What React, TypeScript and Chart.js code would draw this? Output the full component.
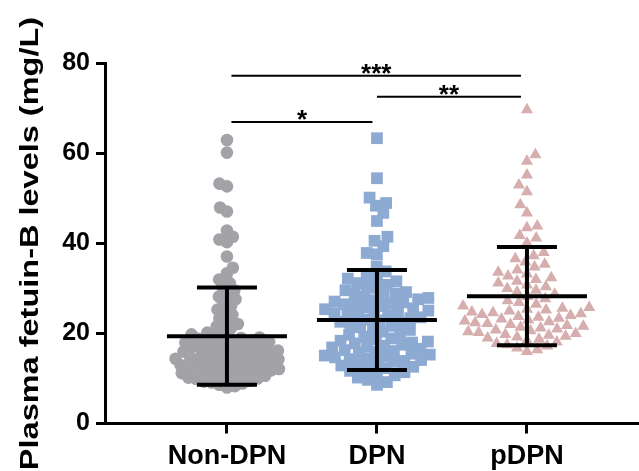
import React, { useEffect, useRef } from 'react';
import { Chart, registerables } from 'chart.js';

Chart.register(...registerables);

// ---------- data ----------
const categories = ['Non-DPN', 'DPN', 'pDPN'];

const nonDpnValues = [
  63.0, 60.2, 53.3, 52.7, 48.0, 47.1, 42.9, 41.5, 40.9, 40.3, 37.1, 34.6, 33.4, 32.0, 31.2, 30.4,
  29.6, 28.9, 28.2, 27.6, 26.8, 26.1, 25.3, 24.9, 24.1, 23.4, 22.8, 22.1, 21.6, 21.2, 20.6, 20.2,
  19.8, 19.6, 19.3, 19.1, 19.0, 18.8, 18.6, 18.5, 18.3, 18.1, 18.0, 17.8, 17.7, 17.5, 17.4, 17.2,
  17.1, 16.9, 16.8, 16.6, 16.5, 16.3, 16.2, 16.0, 15.9, 15.7, 15.6, 15.4, 15.3, 15.1, 15.0, 14.9,
  14.7, 14.6, 14.4, 14.3, 14.2, 14.0, 13.9, 13.7, 13.6, 13.5, 13.3, 13.2, 13.0, 12.9, 12.8, 12.6,
  12.5, 12.3, 12.2, 12.1, 11.9, 11.8, 11.6, 11.5, 11.4, 11.2, 11.1, 10.9, 10.8, 10.6, 10.5, 10.4,
  10.2, 10.0, 9.9, 9.7, 9.5, 9.3, 9.1, 8.9, 8.6, 8.3, 8.0,
];

const dpnValues = [
  63.4, 54.5, 50.2, 49.0, 48.4, 46.8, 45.0, 41.5, 40.6, 39.4, 37.9, 37.6,
  34.9, 33.8, 32.8, 32.6, 32.2,
  31.6, 31.2, 30.8, 30.4, 30.1, 29.6, 29.2,
  28.9, 28.6, 28.4, 28.1, 27.9, 27.6, 27.4, 27.1, 26.9, 26.7, 26.5, 26.3, 26.1,
  25.8, 25.6, 25.4, 25.1, 24.9, 24.7, 24.5, 24.3, 24.1, 23.9, 23.6, 23.4, 23.1, 22.9, 22.6, 22.4, 22.1,
  21.7, 21.4, 21.1, 20.8, 20.4, 20.1, 19.7, 19.3,
  18.9, 18.7, 18.4, 18.2, 18.0, 17.8, 17.5, 17.3, 17.1, 16.9, 16.6,
  16.3, 16.1, 15.9, 15.7, 15.5, 15.3, 15.1, 14.9, 14.7, 14.5, 14.3, 14.1, 13.9, 13.7, 13.5, 13.2,
  12.9, 12.6, 12.3, 12.0, 11.7, 11.4, 11.1,
  10.7, 10.2, 9.7, 9.2, 8.6,
];

const pdpnValues = [
  69.7, 59.7, 58.3, 55.2, 53.0, 51.5, 48.6, 46.8, 43.9, 43.5, 41.8, 41.2, 40.1, 38.0, 37.3,
  36.6, 35.9, 35.4, 34.8, 34.1, 33.6, 33.2,
  32.8, 32.4, 32.0, 31.6, 31.2, 30.8, 30.4, 30.0, 29.6, 29.2,
  28.7, 28.2, 27.7, 27.3, 26.9, 26.5, 26.1,
  25.8, 25.6, 25.4, 25.2, 25.0, 24.8, 24.6, 24.4, 24.2, 24.0, 23.8, 23.6, 23.4, 23.2, 23.0, 22.8,
  22.6, 22.4, 22.2,
  22.0, 21.8, 21.6, 21.4, 21.2, 21.0, 20.8, 20.6, 20.4, 20.2, 20.0, 19.8, 19.6, 19.4, 19.2, 19.0,
  18.7, 18.4, 18.1, 17.8, 17.5, 17.2, 16.8, 16.4, 16.0,
];

const groupMeans = [19.4, 23.0, 28.3];
const groupSDs = [10.8, 11.1, 10.9];

const yTickValues = [0, 20, 40, 60, 80];

const bracketFrom = [1.03, 2.0, 1.03];
const bracketTo = [2.96, 2.96, 1.97];
const bracketY = [77.3, 72.6, 67.0];
const bracketLabels = ['***', '**', '*'];

const yTitle = 'Plasma fetuin-B levels (mg/L)';

// ---------- layout / style constants ----------
const W = 639;
const H = 471;
const X_MIN = 0.187;
const X_MAX = 3.747;
const Y_MIN = 0;
const Y_MAX = 80;
const PLOT_LEFT = 105;
const PLOT_TOP = 63.5;
const PLOT_BOTTOM = 423.5;
const X_PX = (W - PLOT_LEFT) / (X_MAX - X_MIN);
const Y_PX = (PLOT_BOTTOM - PLOT_TOP) / (Y_MAX - Y_MIN);

const GRAY = '#A2A2A7';
const BLUE = '#8DAAD3';
const PINK = '#D7AEAE';
const FONT = '"Liberation Sans", Arial, Helvetica, sans-serif';

// beeswarm layout: horizontal offsets (px) so markers do not pile up
function swarmOffsets(values: number[], diameter: number): number[] {
  const order = values.map((_, i) => i).sort((a, b) => values[a] - values[b]);
  const placed: { x: number; y: number }[] = [];
  const out = new Array(values.length).fill(0);
  let flip = 1;
  for (const i of order) {
    const y = values[i] * Y_PX;
    const intervals: [number, number][] = [];
    for (const p of placed) {
      const dy = Math.abs(p.y - y);
      if (dy < diameter) {
        const dx = Math.sqrt(diameter * diameter - dy * dy);
        intervals.push([p.x - dx, p.x + dx]);
      }
    }
    const cands = [0];
    intervals.forEach(([l, r]) => cands.push(l, r));
    cands.sort((a, b) => {
      const d = Math.abs(a) - Math.abs(b);
      if (Math.abs(d) > 1e-6) return d;
      return flip * (a - b);
    });
    let x = 0;
    for (const c of cands) {
      if (intervals.every(([l, r]) => c <= l + 1e-6 || c >= r - 1e-6)) {
        x = c;
        break;
      }
    }
    flip = -flip;
    placed.push({ x, y });
    out[i] = x;
  }
  return out;
}

function groupPoints(values: number[], center: number, diameter: number) {
  const offs = swarmOffsets(values, diameter);
  return values.map((v, i) => ({ x: center + offs[i] / X_PX, y: v }));
}

const overlayPlugin = {
  id: 'overlay',
  afterDatasetsDraw(chart: any) {
    const ctx = chart.ctx as CanvasRenderingContext2D;
    const xs = chart.scales.x;
    const ys = chart.scales.y;
    ctx.save();
    // mean ± SD bars
    ctx.strokeStyle = '#000';
    ctx.lineWidth = 4;
    ctx.lineCap = 'butt';
    groupMeans.forEach((m, i) => {
      const c = i + 1;
      const sd = groupSDs[i];
      const cx = xs.getPixelForValue(c);
      const ym = ys.getPixelForValue(m);
      const yt = ys.getPixelForValue(m + sd);
      const yb = ys.getPixelForValue(m - sd);
      const half = xs.getPixelForValue(c + 0.4) - cx;
      const cap = xs.getPixelForValue(c + 0.2) - cx;
      ctx.beginPath();
      ctx.moveTo(cx - half, ym); ctx.lineTo(cx + half, ym);
      ctx.moveTo(cx, yt); ctx.lineTo(cx, yb);
      ctx.moveTo(cx - cap, yt); ctx.lineTo(cx + cap, yt);
      ctx.moveTo(cx - cap, yb); ctx.lineTo(cx + cap, yb);
      ctx.stroke();
    });
    // significance brackets
    ctx.lineWidth = 2;
    ctx.fillStyle = '#000';
    ctx.font = `bold 26px ${FONT}`;
    ctx.textAlign = 'center';
    ctx.textBaseline = 'alphabetic';
    bracketY.forEach((yv, i) => {
      const x1 = xs.getPixelForValue(bracketFrom[i]);
      const x2 = xs.getPixelForValue(bracketTo[i]);
      const y = ys.getPixelForValue(yv);
      ctx.beginPath();
      ctx.moveTo(x1, y); ctx.lineTo(x2, y);
      ctx.stroke();
      ctx.fillText(bracketLabels[i], (x1 + x2) / 2, y + 6);
    });
    // y axis title (stretched along its length like the reference)
    ctx.save();
    ctx.translate(38, 243.5);
    ctx.rotate(-Math.PI / 2);
    ctx.scale(1.3, 1);
    ctx.font = `bold 25px ${FONT}`;
    ctx.textAlign = 'center';
    ctx.textBaseline = 'alphabetic';
    ctx.fillText(yTitle, 0, 0);
    ctx.restore();
    ctx.restore();
  },
};

export default function App() {
  const canvasRef = useRef<HTMLCanvasElement | null>(null);

  useEffect(() => {
    document.body.style.margin = '0';
    const canvas = canvasRef.current;
    if (!canvas) return;
    const chart = new Chart(canvas, {
      type: 'scatter',
      data: {
        datasets: [
          {
            label: categories[0],
            data: groupPoints(nonDpnValues, 1, 8),
            pointStyle: 'circle',
            pointRadius: 6.3,
            pointHoverRadius: 6.3,
            backgroundColor: GRAY,
            borderWidth: 0,
            clip: false,
          } as any,
          {
            label: categories[1],
            data: groupPoints(dpnValues, 2, 10.3),
            pointStyle: 'rect',
            pointRadius: 8.3,
            pointHoverRadius: 8.3,
            backgroundColor: BLUE,
            borderWidth: 0,
            clip: false,
          } as any,
          {
            label: categories[2],
            data: groupPoints(pdpnValues, 3, 10.5),
            pointStyle: 'triangle',
            pointRadius: 7,
            pointHoverRadius: 7,
            backgroundColor: PINK,
            borderWidth: 0,
            clip: false,
          } as any,
        ],
      },
      options: {
        animation: false,
        responsive: true,
        maintainAspectRatio: false,
        events: [],
        layout: { autoPadding: false, padding: { top: PLOT_TOP, left: 0, right: 0, bottom: 0 } },
        plugins: {
          legend: { display: false },
          tooltip: { enabled: false },
          title: { display: false },
        },
        scales: {
          x: {
            type: 'linear',
            min: X_MIN,
            max: X_MAX,
            afterBuildTicks: (s: any) => {
              s.ticks = categories.map((_, i) => ({ value: i + 1 }));
            },
            afterFit: (s: any) => {
              s.height = H - PLOT_BOTTOM;
              s.paddingLeft = 0;
              s.paddingRight = 0;
            },
            ticks: {
              autoSkip: false,
              maxRotation: 0,
              padding: 7,
              color: '#000',
              font: { family: FONT, size: 27, weight: 'bold' },
              callback: (v: any) => categories[Math.round(Number(v)) - 1] ?? '',
            },
            grid: {
              drawOnChartArea: false,
              drawTicks: true,
              tickLength: 10,
              lineWidth: 3,
              color: '#000',
            },
            border: { display: true, color: '#000', width: 3 },
          },
          y: {
            type: 'linear',
            min: Y_MIN,
            max: Y_MAX,
            afterBuildTicks: (s: any) => {
              s.ticks = yTickValues.map((v) => ({ value: v }));
            },
            afterFit: (s: any) => {
              s.width = PLOT_LEFT;
            },
            ticks: {
              padding: 6,
              color: '#000',
              font: { family: FONT, size: 25, weight: 'bold' },
            },
            grid: {
              drawOnChartArea: false,
              drawTicks: true,
              tickLength: 9,
              lineWidth: 3,
              color: '#000',
            },
            border: { display: true, color: '#000', width: 3 },
          },
        },
      } as any,
      plugins: [overlayPlugin],
    });
    return () => chart.destroy();
  }, []);

  return (
    <div style={{ width: W, height: H, position: 'relative', background: '#fff' }}>
      <canvas ref={canvasRef} />
    </div>
  );
}
